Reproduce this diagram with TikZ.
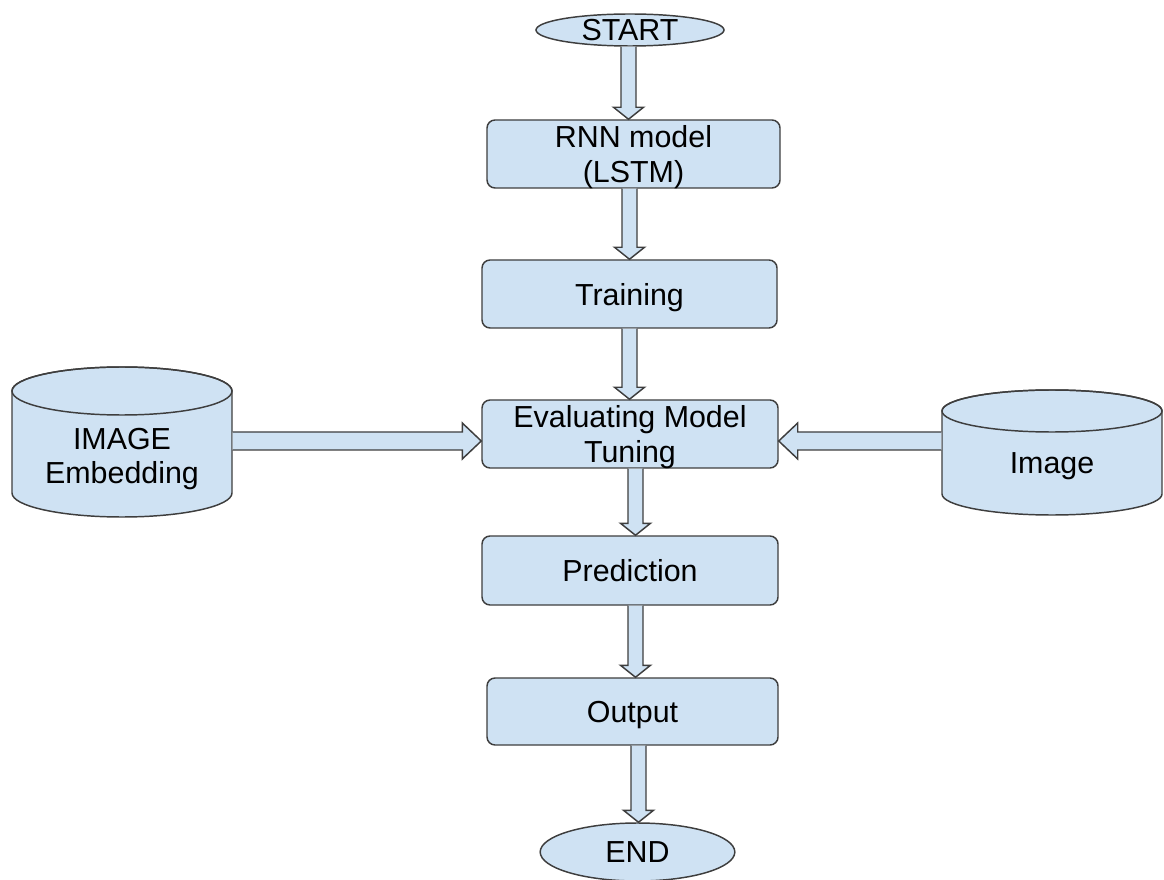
\documentclass[tikz,border=0pt]{standalone}
\usepackage{fontspec}
\setmainfont{Liberation Sans}
\usetikzlibrary{shapes.geometric,calc}

\definecolor{boxfill}{RGB}{207,226,243}
\definecolor{boxline}{RGB}{62,62,62}

\tikzset{every picture/.style={line width=1.1pt}}
\tikzset{
  flowtext/.style={font=\fontsize{22.8}{26}\selectfont, align=center, text=black},
  stepbox/.style={flowtext, draw=boxline, fill=boxfill, rounded corners=6pt, inner sep=0pt, text depth=0pt},
  terminal/.style={flowtext, ellipse, draw=boxline, fill=boxfill, inner sep=0pt},
  drumtext/.style={flowtext, inner sep=0pt, minimum width=165pt},
  drum/.style={draw=boxline, fill=boxfill},
  blockarrow/.style={draw=boxline, fill=boxfill, line join=miter}
}

% vertical block arrow: from node, to node, x shift
\newcommand{\vblockarrow}[3]{%
  \coordinate (s) at ($(#1.south)+(#3,0)$);
  \coordinate (t) at (s |- #2.north);
  \draw[blockarrow] ($(s)+(-7.5,0)$) -- ($(t)+(-7.5,-12)$) -- ($(t)+(-15,-12)$) -- (t) -- ($(t)+(15,-12)$) -- ($(t)+(7.5,-12)$) -- ($(s)+(7.5,0)$);
}
% horizontal block arrow: from anchor, to anchor, y shift, direction
\newcommand{\hblockarrow}[4]{%
  \coordinate (t) at ($(#2)+(0,#3)$);
  \coordinate (s) at (t -| #1);
  \draw[blockarrow] ($(s)+(0,-9)$) -- ($(t)+(-19*#4,-9)$) -- ($(t)+(-19*#4,-18)$) -- (t) -- ($(t)+(-19*#4,18)$) -- ($(t)+(-19*#4,9)$) -- ($(s)+(0,9)$);
}

\begin{document}
\begin{tikzpicture}[x=0.75pt,y=0.75pt,yscale=-1,xscale=1]
\useasboundingbox (0,0) rectangle (1164,880);

%Shape: Ellipse
\node[terminal, minimum width=141pt, minimum height=24pt] (start) at (630,30) {START};
%Shape: Rounded Rect
\node[stepbox, minimum width=219.75pt, minimum height=51pt] (rnn) at (633.5,154) {RNN model\\(LSTM)};
%Shape: Rounded Rect
\node[stepbox, minimum width=221.25pt, minimum height=51pt] (train) at (629.5,294) {Training};
%Shape: Rounded Rect
\node[stepbox, minimum width=222pt, minimum height=51pt] (eval) at (630,434) {Evaluating Model\\Tuning};
%Shape: Rounded Rect
\node[stepbox, minimum width=222pt, minimum height=51.75pt] (pred) at (630,570.5) {Prediction};
%Shape: Rounded Rect
\node[stepbox, minimum width=218.25pt, minimum height=50.25pt] (out) at (632.5,711.5) {Output};
%Shape: Ellipse
\node[terminal, minimum width=146pt, minimum height=43.5pt] (end) at (637.5,852) {END};

%Shape: Can
\draw[drum] (12,391) -- (12,493) arc[start angle=180, end angle=0, x radius=110, y radius=24] -- (232,391) arc[start angle=0, end angle=-180, x radius=110, y radius=24] -- cycle;
\draw[boxline] (122,391) ellipse [x radius=110, y radius=24];
%Shape: Can
\draw[drum] (942,411) -- (942,494) arc[start angle=180, end angle=0, x radius=110, y radius=21] -- (1162,411) arc[start angle=0, end angle=-180, x radius=110, y radius=21] -- cycle;
\draw[boxline] (1052,411) ellipse [x radius=110, y radius=21];

% Text Node
\node[drumtext] (emb) at (122,459) {IMAGE\\Embedding};
% Text Node
\node[drumtext] (img) at (1052,466.5) {Image};

%Block Arrows
\vblockarrow{start}{rnn}{-1.5}
\vblockarrow{rnn}{train}{-4}
\vblockarrow{train}{eval}{0}
\vblockarrow{eval}{pred}{5.5}
\vblockarrow{pred}{out}{5.5}
\vblockarrow{out}{end}{6}

\hblockarrow{emb.east}{eval.west}{7}{1}
\hblockarrow{img.west}{eval.east}{7}{-1}

\end{tikzpicture}
\end{document}
